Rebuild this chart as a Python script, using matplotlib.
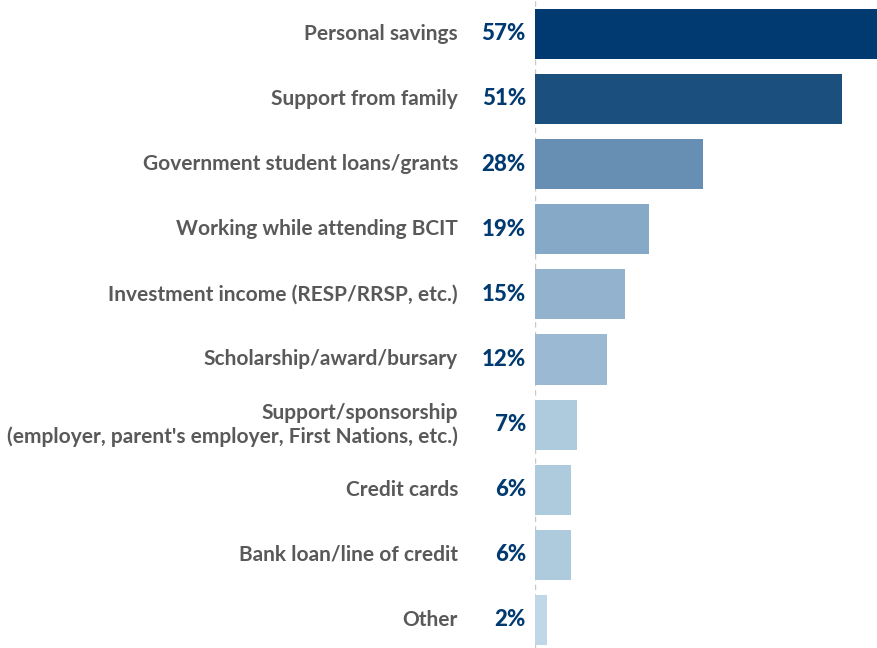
import matplotlib
matplotlib.use("Agg")
import matplotlib.pyplot as plt

# funding sources (top to bottom)
categories = [
    "Personal savings",
    "Support from family",
    "Government student loans/grants",
    "Working while attending BCIT",
    "Investment income (RESP/RRSP, etc.)",
    "Scholarship/award/bursary",
    "Support/sponsorship\n(employer, parent's employer, First Nations, etc.)",
    "Credit cards",
    "Bank loan/line of credit",
    "Other",
]
values = [57, 51, 28, 19, 15, 12, 7, 6, 6, 2]
labels = ["57%", "51%", "28%", "19%", "15%", "12%", "7%", "6%", "6%", "2%"]
colors = ["#003a70", "#1b4f7e", "#678fb3", "#86a9c7", "#93b2cd",
          "#9bb9d3", "#aecbdd", "#aecbdd", "#aecbdd", "#bfd7e6"]

plt.rcParams['font.family'] = ['Lato', 'DejaVu Sans']

fig = plt.figure(figsize=(8.78, 6.48), dpi=100)
ax = fig.add_axes([535 / 878, 0, 343 / 878, 1])

y = list(range(len(values)))
ax.barh(y, values, height=0.77, color=colors, zorder=2)
ax.set_xlim(0, 57)
ax.set_ylim(9.43, -0.52)
ax.axvline(0, color="#c8c8c8", linestyle=(0, (4, 3)), linewidth=1, zorder=1)

for i in y:
    ax.annotate(labels[i], (0, i), xytext=(-6.5, 0), textcoords="offset points",
                ha="right", va="center", fontsize=16, fontweight="black",
                color="#003a70")
    ax.annotate(categories[i], (0, i), xytext=(-55.5, 0), textcoords="offset points",
                ha="right", va="center", fontsize=15, fontweight="bold",
                color="#595959", linespacing=1.2, annotation_clip=False)

ax.axis("off")
fig.savefig("out.png", dpi=100)
